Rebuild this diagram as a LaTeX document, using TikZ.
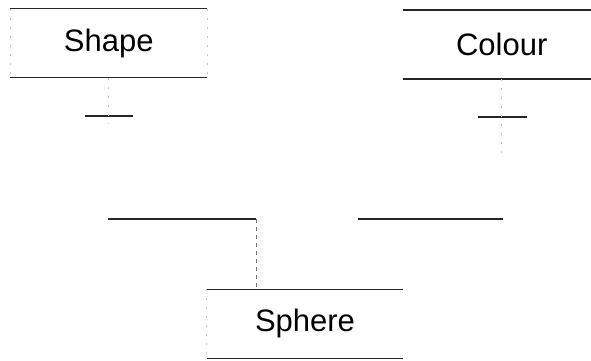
\documentclass[tikz,border=0pt]{standalone}
\usepackage{fontspec}
\setmainfont{Liberation Sans}
\begin{document}
\begin{tikzpicture}[x=1pt,y=-1pt,
  label box/.style={draw=none,minimum width=196.5pt,minimum height=68.5pt,
    inner sep=0pt,font=\fontsize{31}{37}\selectfont},
  rule/.style={draw=black!85,line width=1.3pt},
  faint/.style={draw=black!22,line width=0.8pt,dash pattern=on 2pt off 7pt},
  link/.style={draw=black!55,line width=0.9pt,dash pattern=on 4pt off 4pt}]
\useasboundingbox (0,0) rectangle (591,361);

% boxes
\node[label box] (shape)  at (108.75,43.25) {Shape};
\node[label box] (colour) at (501.75,44.5)  {Colour};
\node[label box] (sphere) at (305,323.75)   {Sphere};

\foreach \n in {shape,colour,sphere}{
  \draw[rule] (\n.north west) -- (\n.north east);
  \draw[rule] (\n.south west) -- (\n.south east);
}
\foreach \n in {shape,sphere}{
  \draw[faint] (\n.north west) -- (\n.south west);
}
\draw[faint] (shape.north east) -- (shape.south east);

% short rules beneath the upper boxes
\coordinate (sl) at (85,116);  \coordinate (sr) at (133,116);
\coordinate (cl) at (478,117); \coordinate (cr) at (527,117);
\draw[rule] (sl) -- (sr);
\draw[rule] (cl) -- (cr);
\draw[faint] (shape.south) -- ++(0,46);
\draw[faint] (colour.south) -- ++(0,76);

% joining rules above the lower box
\coordinate (jl) at (108,219);
\coordinate (jc) at (256,219);
\coordinate (jr1) at (358,219);
\coordinate (jr2) at (503,219);
\draw[rule] (jl) -- (jc);
\draw[rule] (jr1) -- (jr2);
\draw[link] (jc) -- (jc |- sphere.north);
\end{tikzpicture}
\end{document}
